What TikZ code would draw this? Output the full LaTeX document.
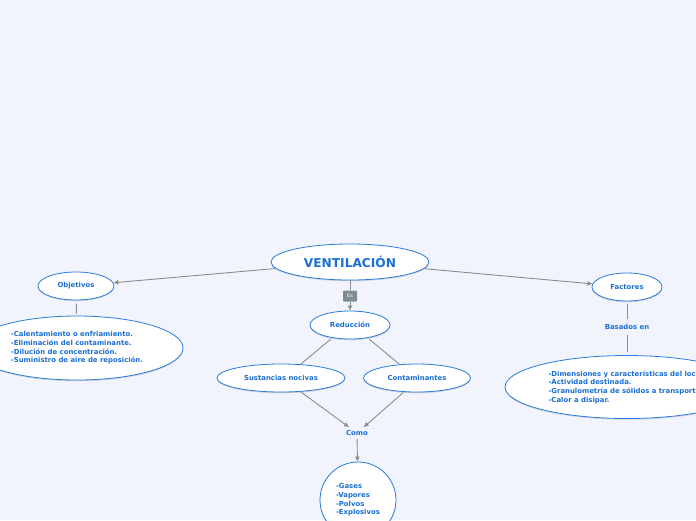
\documentclass[tikz,border=0pt]{standalone}
\usepackage{fontspec}
\setmainfont{DejaVu Sans}
\usetikzlibrary{shapes.geometric,arrows.meta,shadows}
\definecolor{bg}{HTML}{F1F4FC}
\definecolor{edgeblue}{HTML}{2A7BDE}
\definecolor{txtblue}{HTML}{1A6FD6}
\definecolor{linegray}{HTML}{8C8C8C}
\definecolor{esgray}{HTML}{7E8A96}
\tikzset{
  bubble/.style={ellipse, draw=edgeblue, line width=0.8pt, fill=white, inner sep=0pt,
    text=txtblue, font=\bfseries\fontsize{6.9}{8.7}\selectfont,
    drop shadow={shadow xshift=0pt, shadow yshift=-1.2pt, opacity=0.25, fill=black!60}},
  plain/.style={text=txtblue, font=\bfseries\fontsize{6.9}{8.7}\selectfont, inner sep=3pt},
  conn/.style={draw=linegray, line width=0.9pt},
  arr/.style={conn, -{Latex[length=5pt,width=5pt]}},
  esbox/.style={fill=esgray, rounded corners=1pt, text=white, font=\fontsize{5}{6}\selectfont,
    minimum width=14pt, minimum height=11pt, inner sep=0pt}
}
\begin{document}
\begin{tikzpicture}[x=1pt,y=-1pt]
\fill[bg] (0,0) rectangle (696,520);
\useasboundingbox (0,0) rectangle (696,520);
\clip (0,0) rectangle (696,520);

\node[bubble, minimum width=158pt, minimum height=36pt, font=\bfseries\fontsize{12.2}{14}\selectfont] (vent) at (350,262) {VENTILACIÓN};
\node[esbox] (es) at (350,296) {Es};
\node[bubble, minimum width=80pt, minimum height=28pt] (red) at (350,325) {Reducción};
\node[bubble, minimum width=76pt, minimum height=28pt] (obj) at (76,286) {Objetivos};
\node[bubble, minimum width=212pt, minimum height=64pt, align=left] (objlist) at (77,348)
  {-Calentamiento o enfriamiento.\\-Eliminación del contaminante.\\-Dilución de concentración.\\-Suministro de aire de reposición.};
\node[bubble, minimum width=70pt, minimum height=28pt] (fac) at (627,287) {Factores};
\node[plain] (bas) at (627,327) {Basados en};
\node[bubble, minimum width=244pt, minimum height=63pt, align=left] (faclist) at (627,387)
  {-Dimensiones y características del local.\\-Actividad destinada.\\-Granulometría de sólidos a transportar.\\-Calor a disipar.};
\node[bubble, minimum width=128pt, minimum height=28pt] (sus) at (281,378) {Sustancias nocivas};
\node[bubble, minimum width=107pt, minimum height=28pt] (con) at (417,378) {Contaminantes};
\node[plain] (como) at (357,433) {Como};
\node[bubble, minimum width=76pt, minimum height=76pt, align=left] (gas) at (358,500)
  {-Gases\\-Vapores\\-Polvos\\-Explosivos};

\draw[arr] (vent) -- (obj);
\draw[arr] (vent) -- (fac);
\draw[conn] (vent) -- (es);
\draw[arr] (es) -- (red);
\draw[conn, shorten <=3pt, shorten >=2pt] (obj) -- (objlist);
\draw[conn, shorten <=3pt, shorten >=2pt] (fac) -- (bas);
\draw[conn, shorten <=2pt, shorten >=3pt] (bas) -- (faclist);
\draw[conn, shorten <=2pt] (red.216) -- (sus.35);
\draw[conn, shorten <=2pt] (red.-36) -- (con.142);
\draw[arr, shorten <=1pt] (sus.-35) -- (como);
\draw[arr, shorten <=1pt] (con.227) -- (como);
\draw[arr] (como) -- (gas);
\end{tikzpicture}
\end{document}
